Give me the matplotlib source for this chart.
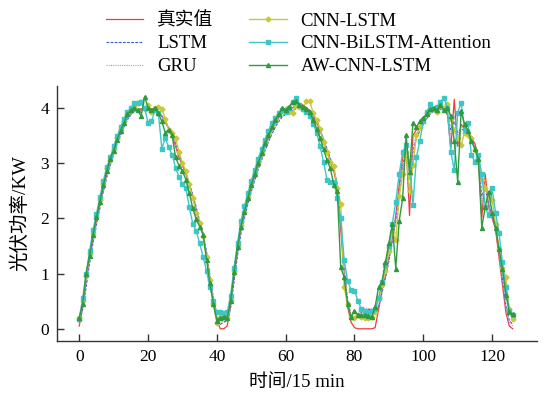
import matplotlib
matplotlib.use("Agg")
import matplotlib.pyplot as plt
import numpy as np

plt.rcParams['font.family'] = ['Liberation Serif', 'Noto Sans CJK SC']
plt.rcParams['axes.unicode_minus'] = False

time_steps = list(range(127))

true_vals = [0.05, 0.40, 0.85, 1.28, 1.65, 1.95, 2.25, 2.55, 2.80, 3.00,
             3.20, 3.40, 3.55, 3.70, 3.82, 3.90, 3.95, 3.97, 3.98, 3.96,
             4.00, 3.98, 3.96, 3.92, 3.85, 3.73, 3.62, 3.50, 3.30, 3.10,
             2.95, 2.80, 2.60, 2.40, 2.15, 1.90, 1.70, 1.30, 0.85, 0.48,
             0.15, 0.00, 0.00, 0.05, 0.42, 0.95, 1.42, 1.80, 2.08, 2.32,
             2.55, 2.75, 2.95, 3.12, 3.30, 3.45, 3.60, 3.72, 3.82, 3.90,
             3.95, 3.97, 4.00, 4.03, 4.08, 4.05, 4.00, 3.95, 3.85, 3.72,
             3.60, 3.40, 3.22, 3.03, 2.85, 2.55, 1.80, 0.95, 0.40, 0.12,
             0.02, 0.00, 0.00, 0.00, 0.00, 0.00, 0.02, 0.35, 0.70, 0.95,
             1.30, 1.65, 2.05, 2.60, 3.10, 3.35, 2.05, 3.50, 3.60, 3.67,
             3.78, 3.87, 3.95, 4.00, 4.02, 4.00, 3.97, 3.90, 3.25, 4.15,
             3.30, 3.70, 3.62, 3.55, 3.45, 3.35, 3.10, 2.00, 2.80, 2.20,
             2.00, 1.80, 1.30, 0.80, 0.30, 0.05, 0.00]

lstm_vals = [0.10, 0.35, 0.75, 1.18, 1.55, 1.88, 2.18, 2.48, 2.74, 2.95,
             3.15, 3.35, 3.50, 3.65, 3.78, 3.87, 3.93, 3.95, 3.96, 3.95,
             3.97, 3.98, 3.95, 3.90, 3.85, 3.75, 3.64, 3.52, 3.35, 3.15,
             2.98, 2.82, 2.63, 2.43, 2.20, 1.95, 1.73, 1.40, 0.95, 0.55,
             0.22, 0.08, 0.12, 0.15, 0.38, 0.85, 1.32, 1.72, 2.00, 2.25,
             2.48, 2.68, 2.88, 3.05, 3.22, 3.38, 3.52, 3.65, 3.75, 3.83,
             3.88, 3.92, 3.95, 3.98, 4.02, 4.03, 4.00, 3.95, 3.86, 3.75,
             3.62, 3.44, 3.26, 3.08, 2.90, 2.62, 1.95, 1.10, 0.52, 0.25,
             0.18, 0.22, 0.30, 0.33, 0.35, 0.35, 0.32, 0.40, 0.65, 0.92,
             1.22, 1.58, 1.95, 2.45, 2.95, 3.25, 2.85, 3.20, 3.45, 3.58,
             3.70, 3.80, 3.88, 3.94, 3.97, 3.97, 3.95, 3.88, 3.60, 3.75,
             3.55, 3.62, 3.58, 3.52, 3.42, 3.30, 3.10, 2.40, 2.55, 2.25,
             2.05, 1.82, 1.38, 0.90, 0.42, 0.15, 0.08]

gru_vals = [0.08, 0.42, 0.82, 1.24, 1.60, 1.92, 2.22, 2.52, 2.77, 2.98,
            3.18, 3.38, 3.53, 3.68, 3.80, 3.88, 3.93, 3.96, 3.97, 3.95,
            3.98, 3.97, 3.94, 3.90, 3.84, 3.74, 3.63, 3.50, 3.32, 3.13,
            2.97, 2.81, 2.62, 2.42, 2.18, 1.93, 1.72, 1.36, 0.92, 0.52,
            0.20, 0.10, 0.15, 0.18, 0.45, 0.92, 1.38, 1.76, 2.04, 2.28,
            2.52, 2.72, 2.92, 3.08, 3.26, 3.42, 3.56, 3.68, 3.78, 3.86,
            3.91, 3.94, 3.97, 4.00, 4.04, 4.03, 3.99, 3.94, 3.85, 3.73,
            3.61, 3.42, 3.24, 3.06, 2.88, 2.60, 1.90, 1.05, 0.48, 0.22,
            0.20, 0.28, 0.35, 0.37, 0.37, 0.36, 0.34, 0.42, 0.68, 0.95,
            1.25, 1.60, 1.98, 2.50, 3.00, 3.28, 2.70, 3.30, 3.50, 3.62,
            3.73, 3.83, 3.90, 3.95, 3.98, 3.97, 3.94, 3.86, 3.50, 3.85,
            3.50, 3.65, 3.60, 3.53, 3.44, 3.32, 3.12, 2.30, 2.62, 2.22,
            2.02, 1.80, 1.35, 0.86, 0.38, 0.12, 0.05]

cnn_lstm_vals = [0.20, 0.50, 0.95, 1.35, 1.72, 2.02, 2.33, 2.62, 2.90, 3.05,
                 3.25, 3.45, 3.60, 3.76, 3.88, 3.95, 4.02, 4.08, 4.10, 3.98,
                 4.05, 3.92, 4.00, 4.02, 3.98, 3.80, 3.60, 3.55, 3.45, 3.20,
                 3.00, 2.85, 2.62, 2.36, 2.10, 1.92, 1.68, 1.30, 0.88, 0.45,
                 0.10, 0.22, 0.25, 0.20, 0.52, 1.05, 1.50, 1.88, 2.12, 2.38,
                 2.60, 2.82, 3.02, 3.18, 3.38, 3.50, 3.66, 3.78, 3.88, 3.95,
                 3.98, 3.92, 3.90, 4.05, 4.02, 3.98, 4.12, 4.12, 3.90, 3.78,
                 3.62, 3.38, 3.20, 3.02, 2.95, 2.55, 2.25, 0.75, 0.45, 0.21,
                 0.20, 0.25, 0.22, 0.20, 0.20, 0.22, 0.30, 0.55, 0.80, 1.05,
                 1.40, 1.75, 1.60, 2.40, 2.80, 3.20, 2.50, 2.96, 3.50, 3.65,
                 3.80, 3.90, 3.95, 3.97, 3.92, 4.05, 4.00, 4.06, 3.80, 3.60,
                 3.45, 3.32, 3.55, 3.50, 3.45, 3.23, 3.05, 2.70, 2.55, 2.40,
                 2.33, 1.90, 1.45, 1.10, 0.93, 0.35, 0.18]

cnn_bilstm_att_vals = [0.18, 0.55, 1.00, 1.40, 1.78, 2.08, 2.38, 2.68, 2.92, 3.10,
                       3.30, 3.48, 3.65, 3.80, 3.92, 4.00, 4.08, 4.08, 4.10, 4.00,
                       3.72, 3.75, 3.95, 3.90, 3.26, 3.45, 3.28, 3.15, 2.91, 2.75,
                       2.62, 2.54, 2.20, 1.90, 1.77, 1.55, 1.30, 1.05, 0.75, 0.50,
                       0.30, 0.30, 0.28, 0.30, 0.60, 1.10, 1.55, 1.95, 2.22, 2.45,
                       2.68, 2.88, 3.08, 3.25, 3.42, 3.58, 3.72, 3.82, 3.90, 3.95,
                       3.92, 4.00, 4.10, 4.18, 4.05, 3.97, 3.92, 3.85, 3.70, 3.55,
                       3.30, 3.02, 2.70, 2.66, 2.66, 2.36, 2.00, 1.25, 0.87, 0.70,
                       0.69, 0.51, 0.35, 0.32, 0.30, 0.33, 0.35, 0.55, 0.85, 1.15,
                       1.50, 1.90, 2.30, 2.80, 3.20, 3.32, 3.00, 2.24, 3.10, 3.40,
                       3.75, 3.92, 4.06, 3.98, 4.02, 4.10, 4.18, 4.00, 3.20, 2.87,
                       3.91, 4.09, 3.60, 3.73, 3.14, 3.02, 3.15, 2.80, 2.20, 2.05,
                       2.54, 2.10, 1.74, 1.20, 0.75, 0.33, 0.25]

aw_cnn_lstm_vals = [0.20, 0.45, 1.00, 1.32, 1.70, 2.02, 2.30, 2.60, 2.85, 3.08,
                    3.22, 3.42, 3.58, 3.72, 3.88, 3.95, 4.00, 3.95, 3.85, 4.20,
                    4.00, 3.95, 4.00, 3.90, 3.75, 3.55, 3.60, 3.50, 3.10, 2.95,
                    2.85, 2.70, 2.45, 2.18, 1.98, 1.85, 1.70, 1.25, 0.82, 0.45,
                    0.15, 0.20, 0.22, 0.20, 0.50, 1.02, 1.48, 1.85, 2.12, 2.36,
                    2.60, 2.80, 3.00, 3.18, 3.36, 3.50, 3.65, 3.78, 3.88, 4.00,
                    3.95, 4.02, 4.10, 4.12, 4.05, 4.02, 3.98, 3.92, 3.78, 3.62,
                    3.45, 3.25, 3.05, 2.90, 2.60, 2.50, 1.11, 0.93, 0.45, 0.21,
                    0.33, 0.25, 0.25, 0.25, 0.24, 0.22, 0.40, 0.75, 0.85, 1.20,
                    1.55, 1.89, 1.09, 1.95, 2.36, 3.50, 2.84, 3.73, 3.65, 3.75,
                    3.82, 3.88, 3.98, 4.00, 3.95, 4.05, 3.95, 4.00, 3.85, 3.40,
                    2.66, 3.94, 3.70, 3.58, 3.40, 3.25, 3.08, 1.83, 2.20, 2.48,
                    2.10, 1.83, 1.45, 1.08, 0.62, 0.30, 0.26]

series_labels = ['真实值', 'LSTM', 'GRU', 'CNN-LSTM', 'CNN-BiLSTM-Attention', 'AW-CNN-LSTM']
x_ticks = [0, 20, 40, 60, 80, 100, 120]
y_ticks = [0, 1, 2, 3, 4]

fig = plt.figure(figsize=(5.45, 3.96), dpi=100)
ax = fig.add_axes([0.105, 0.139, 0.880, 0.645])

ax.plot(time_steps, true_vals, color='#f03c3c', lw=0.9, label=series_labels[0])
ax.plot(time_steps, lstm_vals, color='#3c5ad2', lw=0.8, ls=(0, (2.5, 1.2)), label=series_labels[1])
ax.plot(time_steps, gru_vals, color='#c88cc8', lw=0.8, ls=(0, (1, 1)), label=series_labels[2])
ax.plot(time_steps, cnn_lstm_vals, color='#c8c83a', lw=1.0, marker='D', ms=2.5, label=series_labels[3])
ax.plot(time_steps, cnn_bilstm_att_vals, color='#3ec6c6', lw=1.0, marker='s', ms=2.5, label=series_labels[4])
ax.plot(time_steps, aw_cnn_lstm_vals, color='#2f9a40', lw=1.0, marker='^', ms=2.9, label=series_labels[5])

ax.set_xlim(-6.4, 133)
ax.set_ylim(-0.22, 4.4)
ax.set_xticks(x_ticks)
ax.set_yticks(y_ticks)
for s in ['top', 'right']:
    ax.spines[s].set_visible(False)
for s in ['left', 'bottom']:
    ax.spines[s].set_linewidth(1.0)
    ax.spines[s].set_color('#333333')
ax.tick_params(direction='in', length=5, width=1.0, labelsize=12.5, color='#333333', pad=6)
ax.set_xlabel('时间/15 min', fontsize=13.5, labelpad=6)
ax.set_ylabel('光伏功率/KW', fontsize=14, labelpad=8)

fig.legend(loc='upper center', bbox_to_anchor=(0.548, 1.012), ncol=2, frameon=False,
           fontsize=13.5, handlelength=2.0, handletextpad=0.75, columnspacing=1.9,
           labelspacing=0.3, markerscale=1.0)

fig.savefig('out.png', dpi=100)
